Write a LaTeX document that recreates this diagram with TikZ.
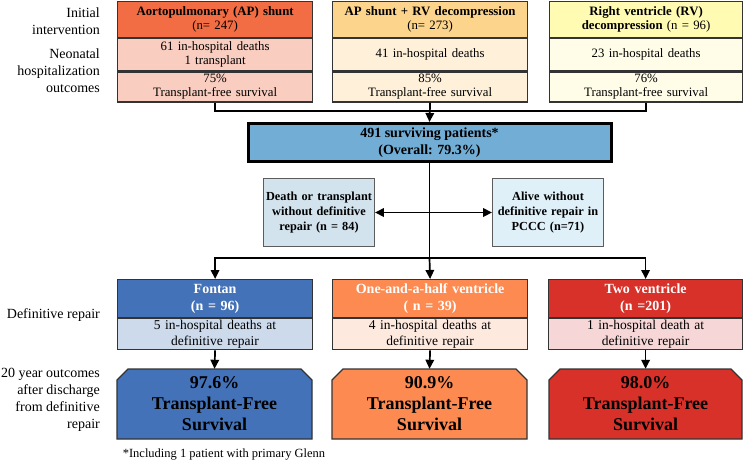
\documentclass[tikz,border=0pt]{standalone}
\usepackage{fontspec}
\setmainfont{Liberation Serif}
\usetikzlibrary{arrows.meta}
\definecolor{boxline}{HTML}{333333}
\definecolor{apH}{HTML}{F26D43}
\definecolor{apL}{HTML}{F9CDBF}
\definecolor{rvH}{HTML}{FCD48C}
\definecolor{rvL}{HTML}{FEF0D9}
\definecolor{vH}{HTML}{FFFBB3}
\definecolor{vL}{HTML}{FFFDE8}
\definecolor{sBlue}{HTML}{72ADD5}
\definecolor{dBox}{HTML}{D2E3ED}
\definecolor{aBox}{HTML}{E0F0F8}
\definecolor{fonH}{HTML}{4472B8}
\definecolor{fonL}{HTML}{CCDAEC}
\definecolor{ohH}{HTML}{FD8B51}
\definecolor{ohL}{HTML}{FDE9DE}
\definecolor{tvH}{HTML}{D7312A}
\definecolor{tvL}{HTML}{F6D6D6}
\tikzset{
  cell/.style={draw=boxline, line width=1.2pt, inner sep=0pt, minimum width=195pt,
    text width=192pt, align=center, anchor=north west, font=\fontsize{12.8}{14}\selectfont},
  bhead/.style={cell, text=white, font=\bfseries\fontsize{14}{17}\selectfont},
  brow/.style={cell, font=\fontsize{13.5}{16.5}\selectfont},
  midbox/.style={draw=boxline!80, line width=0.9pt, inner sep=0pt, minimum width=111pt,
    minimum height=68pt, text width=110pt, align=center, font=\bfseries\fontsize{12.3}{15}\selectfont},
  outshape/.style={draw=boxline, line width=1.2pt},
  outtxt/.style={inner sep=0pt, minimum width=195pt, minimum height=70pt, align=center,
    font=\bfseries\fontsize{18}{21}\selectfont},
  sidelabel/.style={anchor=east, align=right, inner sep=0pt, font=\fontsize{14}{17}\selectfont},
  conn/.style={line width=1.7pt, draw=black},
  arr/.style={-{Triangle[length=9pt,width=8.5pt]}},
  darr/.style={{Triangle[length=9pt,width=8.5pt]}-{Triangle[length=9pt,width=8.5pt]}}
}
\begin{document}
\begin{tikzpicture}[x=1pt,y=-1pt]
\useasboundingbox (0,0) rectangle (744,463);

% side labels
\node[sidelabel] (l1) at (100,21.5) {Initial\\intervention};
\node[sidelabel] (l2) at (100,71) {Neonatal\\hospitalization\\outcomes};
\node[sidelabel] (l3) at (100,315) {Definitive repair};
\node[sidelabel] (l4) at (100,400) {20 year outcomes\\after discharge\\from definitive\\repair};

% top boxes
\node[cell, fill=apH, minimum height=36pt] (a1) at (117,1) {\textbf{Aortopulmonary (AP) shunt}\\(n= 247)};
\node[cell, fill=apL, minimum height=32pt] (a2) at (a1.south west) {61 in-hospital deaths\\1 transplant};
\node[cell, fill=apL, minimum height=30pt] (a3) at (a2.south west) {75\%\\Transplant-free survival};

\node[cell, fill=rvH, minimum height=36pt] (b1) at (332,1) {\textbf{AP shunt + RV decompression}\\(n= 273)};
\node[cell, fill=rvL, minimum height=32pt] (b2) at (b1.south west) {41 in-hospital deaths};
\node[cell, fill=rvL, minimum height=30pt] (b3) at (b2.south west) {85\%\\Transplant-free survival};

\node[cell, fill=vH, minimum height=36pt, minimum width=193pt] (c1) at (549,1) {\textbf{Right ventricle (RV)}\\\textbf{decompression} (n = 96)};
\node[cell, fill=vL, minimum height=32pt, minimum width=193pt] (c2) at (c1.south west) {23 in-hospital deaths};
\node[cell, fill=vL, minimum height=30pt, minimum width=193pt] (c3) at (c2.south west) {76\%\\Transplant-free survival};

% surviving patients
\node[fill=sBlue, draw=black, line width=3pt, minimum width=363pt, minimum height=38pt,
  inner sep=0pt, align=center, font=\bfseries\fontsize{14}{17.5}\selectfont] (s) at (429.5,142.5)
  {491 surviving patients*\\(Overall: 79.3\%)};

\coordinate (j1) at (429.5,111);
\draw[conn] (a3.south) -- (a3.south |- j1) -- (c3.south |- j1) -- (c3.south);
\draw[conn, arr] (b3.south) -- (s.north);

% side outcomes
\node[midbox, fill=dBox] (d) at (319,212.5) {Death or transplant\\without definitive\\repair (n = 84)};
\node[midbox, fill=aBox] (al) at (548,212.5) {Alive without\\definitive repair in\\PCCC (n=71)};

\coordinate (j2) at (429.5,258);
\draw[conn] (s.south) -- (j2);
\draw[conn, darr] (d.east) -- (al.west);

% definitive repair boxes
\node[bhead, fill=fonH, minimum height=38pt] (f1) at (117,279) {Fontan\\(n = 96)};
\node[brow, fill=fonL, minimum height=31pt] (f2) at (f1.south west) {5 in-hospital deaths at\\definitive repair};

\node[bhead, fill=ohH, minimum height=38pt] (m1) at (332,279) {One-and-a-half ventricle\\( n = 39)};
\node[brow, fill=ohL, minimum height=31pt] (m2) at (m1.south west) {4 in-hospital deaths at\\definitive repair};

\node[bhead, fill=tvH, minimum height=38pt, minimum width=194pt] (t1) at (548,279) {Two ventricle\\(n =201)};
\node[brow, fill=tvL, minimum height=31pt, minimum width=194pt] (t2) at (t1.south west) {1 in-hospital death at\\definitive repair};

\draw[conn, arr] (j2) -| (f1.north);
\draw[conn, arr] (j2) -| (t1.north);
\draw[conn, arr] (j2) -- (m1.north);

% outcome boxes
\filldraw[outshape, fill=fonH] (117,439) -- (117,380) -- (128,369) -- (301,369) -- (312,380) -- (312,439) -- cycle;
\node[outtxt] (fo) at (214.5,404) {97.6\%\\Transplant-Free\\Survival};
\filldraw[outshape, fill=ohH] (332,439) -- (332,380) -- (343,369) -- (516,369) -- (527,380) -- (527,439) -- cycle;
\node[outtxt] (mo) at (429.5,404) {90.9\%\\Transplant-Free\\Survival};
\filldraw[outshape, fill=tvH] (549,439) -- (549,380) -- (560,369) -- (731,369) -- (742,380) -- (742,439) -- cycle;
\node[outtxt, minimum width=193pt] (to) at (645.5,404) {98.0\%\\Transplant-Free\\Survival};

\draw[conn, arr] (f2.south) -- (fo.north);
\draw[conn, arr] (m2.south) -- (mo.north);
\draw[conn, arr] (t2.south) -- (t2.south |- to.north);

% footnote
\node[inner sep=0pt, font=\fontsize{12.5}{14}\selectfont] (fn) at (224,455) {*Including 1 patient with primary Glenn};
\end{tikzpicture}
\end{document}
